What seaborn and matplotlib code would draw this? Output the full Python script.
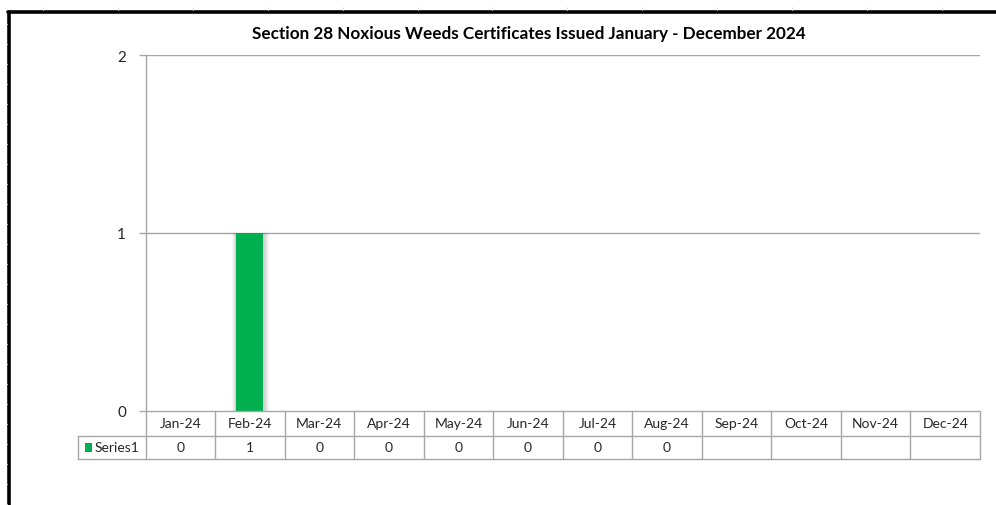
import numpy as np
import pandas as pd
import seaborn as sns
import matplotlib
matplotlib.use("Agg")
import matplotlib.pyplot as plt
from matplotlib.lines import Line2D
from matplotlib.patches import Rectangle

# Monthly certificate counts (Sep-Dec not yet reported)
months = ["Jan-24", "Feb-24", "Mar-24", "Apr-24", "May-24", "Jun-24",
          "Jul-24", "Aug-24", "Sep-24", "Oct-24", "Nov-24", "Dec-24"]
certificates = [0, 1, 0, 0, 0, 0, 0, 0, None, None, None, None]
y_ticks = [0, 1, 2]
series_name = "Series1"
title = "Section 28 Noxious Weeds Certificates Issued January - December 2024"

df = pd.DataFrame({"month": months,
                   "count": [np.nan if v is None else v for v in certificates]})

sns.set_theme(style="white")
plt.rcParams["font.family"] = ["Lato", "DejaVu Sans"]

W, H = 996, 506
fig = plt.figure(figsize=(W / 100, H / 100), dpi=100)
fig.patch.set_facecolor("white")

# pixel helpers (origin top-left)
def fx(px):
    return px / W

def fy(py):
    return 1 - py / H

x0, x1 = 145.5, 980.0
y_top, y_zero = 56.0, 412.0
ax = fig.add_axes([fx(x0), fy(y_zero), fx(x1) - fx(x0), fy(y_top) - fy(y_zero)])

green = "#00B050"
grid_c = "#A6A6A6"
text_c = "#262626"

ncat = len(months)
col_w = (x1 - x0) / ncat
px_unit = 1.0 / col_w  # one pixel in category units
bar_w = 0.39

# soft shadow behind the bars
for i, v in enumerate(df["count"]):
    if pd.notna(v) and v > 0:
        for spread in [5, 4, 3, 2, 1]:
            ax.add_patch(Rectangle((i - bar_w / 2 - spread * px_unit * 0.8, 0),
                                   bar_w + spread * px_unit * 2.0, v,
                                   facecolor="black", alpha=0.035, lw=0, zorder=1.5))

sns.barplot(data=df, x="month", y="count", color=green, width=bar_w,
            saturation=1, linewidth=0, ax=ax, zorder=2)

ax.set_xlim(-0.5, ncat - 0.5)
ax.set_ylim(0, 2)
ax.set_yticks(y_ticks)
ax.set_yticklabels([str(t) for t in y_ticks], fontsize=11, color=text_c)
ax.set_xticks([])
ax.set_xlabel("")
ax.set_ylabel("")
ax.grid(False)
for t in y_ticks[1:]:
    ax.axhline(t, color=grid_c, lw=1.0, zorder=1)
ax.tick_params(axis="y", length=5, width=1.0, color=grid_c, pad=9, left=True)
for s in ["top", "right", "bottom"]:
    ax.spines[s].set_visible(False)
ax.spines["left"].set_color(grid_c)
ax.spines["left"].set_linewidth(1.0)

fig.text(fx(528.5), fy(34), title, ha="center", va="center",
         fontsize=12.3, fontweight="bold", color="black")

# data table under the axis
row1_top, row1_bot, row2_bot = 412.0, 437.0, 460.0
lab_left = 78.0

def hline(px_a, px_b, py):
    fig.add_artist(Line2D([fx(px_a), fx(px_b)], [fy(py), fy(py)],
                          color=grid_c, lw=1.0))

def vline(px, py_a, py_b):
    fig.add_artist(Line2D([fx(px), fx(px)], [fy(py_a), fy(py_b)],
                          color=grid_c, lw=1.0))

hline(x0, x1, row1_top)
hline(lab_left, x1, row1_bot)
hline(lab_left, x1, row2_bot)
vline(lab_left, row1_bot, row2_bot)
for i in range(ncat + 1):
    vline(x0 + i * col_w, row1_top, row2_bot)

for i, (m, v) in enumerate(zip(months, certificates)):
    cx = x0 + (i + 0.5) * col_w
    fig.text(fx(cx), fy((row1_top + row1_bot) / 2), m, ha="center", va="center",
             fontsize=10, color=text_c)
    if v is not None:
        fig.text(fx(cx), fy((row1_bot + row2_bot) / 2), str(v), ha="center",
                 va="center", fontsize=10, color=text_c)

fig.add_artist(Rectangle((fx(85), fy(452.5)), fx(7), fy(443.5) - fy(452.5),
                         facecolor=green, lw=0))
fig.text(fx(95), fy(448.5), series_name, ha="left", va="center",
         fontsize=10, color=text_c)

# sheet frame and faint cell gridline stubs
fig.add_artist(Line2D([fx(9), fx(9)], [fy(13), fy(H)], color="black", lw=2.6))
fig.add_artist(Line2D([fx(8), fx(W)], [fy(13), fy(13)], color="black", lw=2.6))
for k in range(13):
    px = 43 + 74.9 * k
    fig.add_artist(Line2D([fx(px), fx(px)], [fy(8), fy(11)], color="#E2E2E2", lw=0.7))
for k in range(25):
    py = 25 + 20 * k
    if py < H:
        fig.add_artist(Line2D([fx(5.5), fx(7)], [fy(py), fy(py)], color="#E2E2E2", lw=0.7))

fig.savefig("out.png", dpi=100, facecolor="white")
